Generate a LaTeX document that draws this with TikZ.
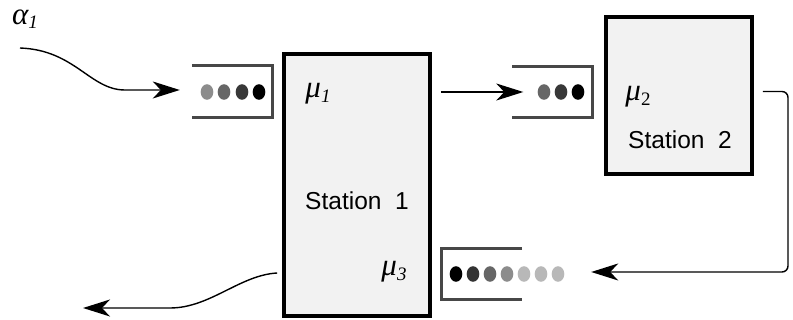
\documentclass[tikz,border=0pt]{standalone}
\usepackage{amsmath}
\usepackage{fontspec}
\setsansfont{Liberation Sans}
\newfontfamily\ratefont{Liberation Serif}
\usetikzlibrary{positioning,calc,arrows,arrows.meta}
% rate symbol with a lowered index
\newcommand{\ratesym}[2]{#1\raisebox{-0.32ex}{\fontsize{19}{20}\selectfont #2}}

\begin{document}
\begin{tikzpicture}[x=1pt,y=-1pt,>={Stealth[length=27pt,width=17pt,inset=8pt]},
                station/.style={draw,line width=3.6pt,fill=black!5,minimum width=146pt,inner sep=0pt},
                queue/.style={minimum width=80pt,minimum height=51pt,inner sep=0pt},
                qline/.style={draw=black!72,line width=3.2pt},
                flow/.style={->,line width=1.4pt},
                rate/.style={font=\ratefont\itshape\fontsize{31}{34}\selectfont,inner sep=0pt},
                title/.style={font=\sffamily\fontsize{24.5}{28}\selectfont}]
\useasboundingbox (0,0) rectangle (793,320);
%Nodes
    \node[station, minimum height=262pt] (st1) at (357,185) {};
    \node[station, minimum height=157pt] (st2) at (679,95.5) {};
    \node[queue] (q1) at (232,91.5) {};
    \node[queue] (q2) at (552.5,92) {};
    \node[queue] (q3) at (482,274) {};

    \node[rate] (a1) at (25,19) {\ratesym{α}{1}};
    \node[rate] (mu1) at (318,94) {\ratesym{μ}{1}};
    \node[rate] (mu2) at (638,97) {\ratesym{μ}{\upshape 2}};
    \node[rate] (mu3) at (394,272) {\ratesym{μ}{3}};
    \node[title] (t1) at (357,201) {Station\ \ 1};
    \node[title] (t2) at (680,140) {Station\ \ 2};

%Queues
    \draw[qline] (q1.north west) -- (q1.north east) -- (q1.south east) -- (q1.south west);
    \draw[qline] (q2.north west) -- (q2.north east) -- (q2.south east) -- (q2.south west);
    \draw[qline] (q3.north east) -- (q3.north west) -- (q3.south west) -- (q3.south east);

    \foreach \x/\c in {207/black!45, 224/black!60, 242/black!78, 259/black}
        \fill[\c] (\x,92) ellipse (6.3pt and 7.8pt);
    \foreach \x/\c in {544/black!60, 561/black!78, 578/black}
        \fill[\c] (\x,92) ellipse (6.3pt and 7.8pt);
    \foreach \x/\c in {456/black, 473/black!80, 490/black!60, 507/black!45,
                       524/black!28, 541/black!28, 558/black!28}
        \fill[\c] (\x,274) ellipse (6.3pt and 7.8pt);

%Flows
    \coordinate (in) at (20,48);
    \coordinate (out) at (83,308);
    \draw[flow] (in) .. controls (75,50) and (90,90) .. (125,90) -- ($(q1.west)+(-12,-1.5)$);
    \draw[flow] ($(st1.east |- q2.west)+(9,0)$) -- ($(q2.west)+(11,0)$);
    \draw[flow, rounded corners=6pt] ($(st2.east)+(9,-4)$) -- (788,91.5) -- (788,272) -- ($(q3.east)+(69,-2)$);
    \draw[flow] ($(st1.west)+(-5,88)$) .. controls (240,275) and (210,308) .. (170,308) -- (out);
\end{tikzpicture}
\end{document}
